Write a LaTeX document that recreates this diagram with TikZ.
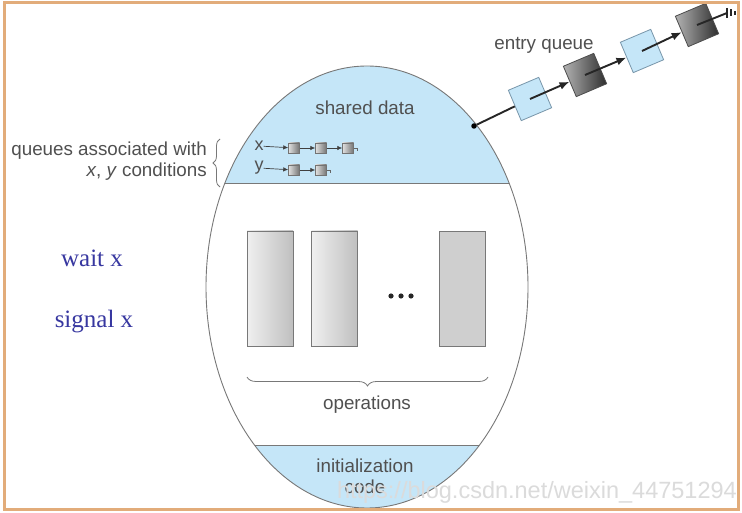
\documentclass[tikz,border=0pt]{standalone}
\usepackage{fontspec}
\setmainfont{Liberation Sans}
\newfontfamily\serifw{Liberation Serif}
\usetikzlibrary{decorations.pathreplacing,arrows.meta}
\definecolor{lblue}{RGB}{197,230,248}
\definecolor{framec}{RGB}{226,172,122}
\definecolor{txt}{RGB}{80,80,80}
\definecolor{wblue}{RGB}{55,55,160}
\definecolor{edge}{RGB}{120,120,120}
\begin{document}
\begin{tikzpicture}[x=1pt,y=-1pt,
  lab/.style={text=txt,font=\fontsize{18.8}{21}\selectfont,inner sep=0pt},
  wlab/.style={text=wblue,font=\serifw\fontsize{25}{28}\selectfont,inner sep=0pt},
  opbase/.style={draw=edge,line width=0.8pt,minimum width=46pt,minimum height=115pt,inner sep=0pt},
  opbox/.style={opbase,left color=gray!12,right color=gray!50},
  opflat/.style={opbase,fill=gray!38},
  qlight/.style={draw={rgb,255:red,120;green,150;blue,170},fill=lblue,minimum size=33pt,rotate=23,inner sep=0pt,line width=0.8pt},
  qdark/.style={draw=black!70,left color=black!30,right color=black!82,minimum size=33pt,rotate=23,inner sep=0pt,line width=0.8pt},
  sbox/.style={draw=black!55,left color=black!12,right color=black!55,minimum width=11pt,minimum height=10pt,inner sep=0pt,line width=0.5pt},
  link/.style={line width=1.9pt,black!85},
  slink/.style={line width=0.7pt,black!75,-{Latex[length=5pt,width=4.5pt]}},
  bracestyle/.style={draw=edge,line width=0.8pt,decorate}
]
\useasboundingbox (0,0) rectangle (742,513);
\fill[white] (0,0) rectangle (742,513);

% monitor body
\coordinate (C) at (367,287);
\begin{scope}
  \clip (C) ellipse [x radius=161pt, y radius=221pt];
  \fill[lblue] (200,60) rectangle (540,183);
  \fill[lblue] (200,445) rectangle (540,515);
  \draw[edge,line width=0.8pt] (200,183) -- (540,183);
  \draw[edge,line width=0.8pt] (200,445) -- (540,445);
\end{scope}
\draw[edge,line width=0.9pt] (C) ellipse [x radius=161pt, y radius=221pt];

% texts inside
\node[lab] (shared) at (365,108) {shared data};
\node[lab] (ops) at (367,405) {operations};
\node[lab,align=center] (init) at (365,476) {initialization\\code};

% operation boxes
\node[opbox] (op1) at (270,288.5) {};
\node[opbox] (op2) at (334.5,288.5) {};
\node[opflat] (op3) at (462.5,288.5) {};
\foreach \xx in {391,401,411} \fill[black!85] (\xx,296) circle (2.6pt);
\draw[bracestyle,decoration={brace,mirror,amplitude=9pt}] (247,377) -- (488,377);

% condition queues
\node[lab,font=\fontsize{18}{20}\selectfont] (xl) at (259,146) {x};
\node[lab,font=\fontsize{18}{20}\selectfont] (yl) at (259,168) {y};
\node[sbox] (xs1) at (294,148) {};
\node[sbox] (xs2) at (321,148) {};
\node[sbox] (xs3) at (348,148) {};
\node[sbox] (ys1) at (294,170) {};
\node[sbox] (ys2) at (321,170) {};
\draw[slink] (xl) -- (xs1);
\draw[slink] (xs1) -- (xs2);
\draw[slink] (xs2) -- (xs3);
\draw[slink] (yl) -- (ys1);
\draw[slink] (ys1) -- (ys2);
\draw[line width=0.6pt,black!60] (xs3.east) -- ++(4,0) -- ++(0,3);
\draw[line width=0.6pt,black!60] (ys2.east) -- ++(4,0) -- ++(0,3);

\node[lab,anchor=east] (qa) at (207,151) {queues associated with};
\node[lab,anchor=east] (qc) at (207,172) {\textit{x}, \textit{y} conditions};
\draw[bracestyle,decoration={brace,amplitude=7pt}] (220,187) -- (220,139);

% entry queue
\node[lab] (eq) at (544,45) {entry queue};
\node[circle,fill=black,inner sep=0pt,minimum size=5.5pt] (dot) at (474,126) {};
\node[qlight] (b1) at (530,99) {};
\node[qdark] (b2) at (585,75) {};
\node[qlight] (b3) at (642,51) {};
\node[qdark] (b4) at (697,25) {};
\coordinate (qend) at (727,13);
\draw[link] (dot) -- (b1);
\draw[link,-{Latex[length=10pt,width=8pt]}] (b1.center) -- (b2);
\draw[link,-{Latex[length=10pt,width=8pt]}] (b2.center) -- (b3);
\draw[link,-{Latex[length=10pt,width=8pt]}] (b3.center) -- (b4);
\draw[link] (b4.center) -- (qend);
\draw[link,line width=1.4pt] (qend) ++(0,-5) -- ++(0,10);
\draw[link,line width=1.4pt] (qend) ++(4,-3.5) -- ++(0,7);
\draw[link,line width=1.4pt] (qend) ++(8,-2) -- ++(0,4);

% left labels
\node[wlab] (wait) at (92,258) {wait x};
\node[wlab] (signal) at (94,322) {signal x};

% watermark
\node[text=gray!28,font=\fontsize{23.5}{26}\selectfont,anchor=east,inner sep=0pt] (wm) at (737,492) {https://blog.csdn.net/weixin\_44751294};

% frame
\draw[framec,line width=3pt] (4,3) rectangle (738,509);
\end{tikzpicture}
\end{document}
